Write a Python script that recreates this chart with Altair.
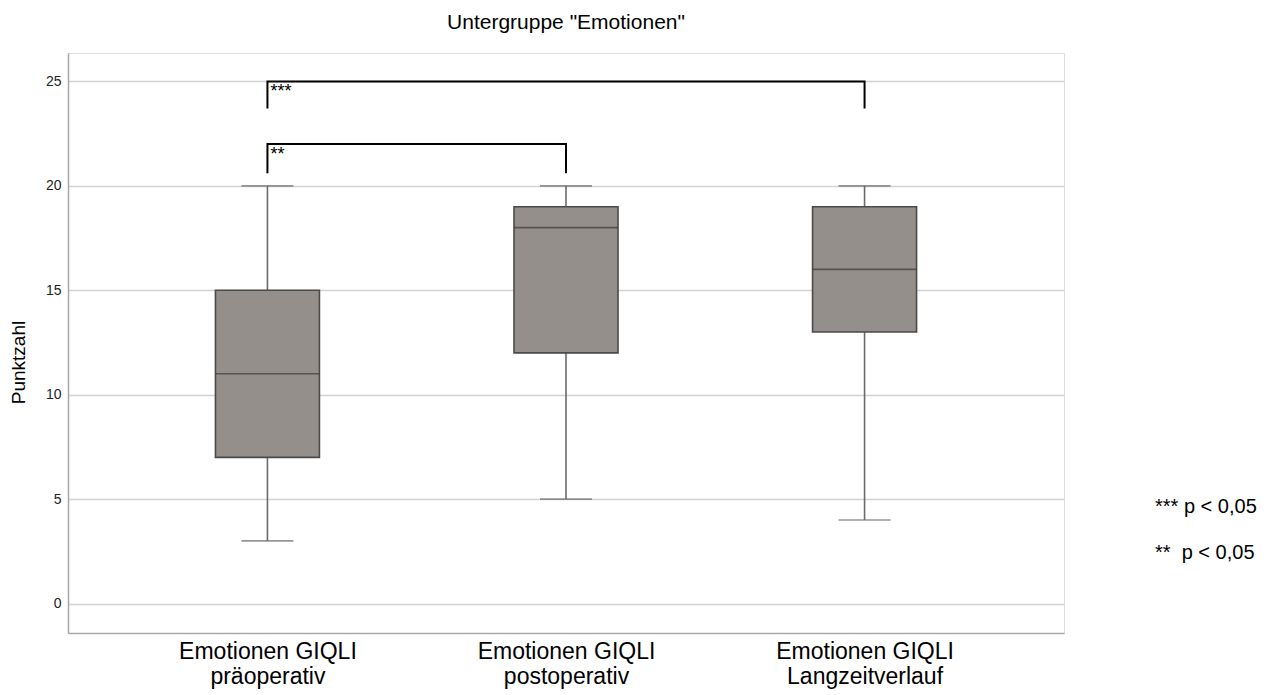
import altair as alt
import pandas as pd

# --- data ---
categories = [
    "Emotionen GIQLI präoperativ",
    "Emotionen GIQLI postoperativ",
    "Emotionen GIQLI Langzeitverlauf",
]
whisker_low = [3, 5, 4]
q1 = [7, 12, 13]
median = [11, 18, 16]
q3 = [15, 19, 19]
whisker_high = [20, 20, 20]

# significance brackets (each a path: low - high - high - low)
bracket_ids = ["***", "***", "***", "***", "**", "**", "**", "**"]
bracket_cat = [categories[0], categories[0], categories[2], categories[2],
               categories[0], categories[0], categories[1], categories[1]]
bracket_y = [23.7, 25, 25, 23.7, 20.6, 22, 22, 20.6]
bracket_order = [0, 1, 2, 3, 0, 1, 2, 3]

bracket_label = ["***", "**"]
bracket_label_cat = [categories[0], categories[0]]
bracket_label_y = [25, 22]

legend_text = ["*** p < 0,05", "**\u00a0\u00a0p < 0,05"]
legend_y = [4.6, 2.4]

box_df = pd.DataFrame({
    "cat": categories, "lo": whisker_low, "q1": q1,
    "med": median, "q3": q3, "hi": whisker_high,
})
br_df = pd.DataFrame({"id": bracket_ids, "cat": bracket_cat,
                      "y": bracket_y, "ord": bracket_order})
brl_df = pd.DataFrame({"lab": bracket_label, "cat": bracket_label_cat,
                       "y": bracket_label_y})
leg_df = pd.DataFrame({"t": legend_text, "y": legend_y})

FONT = "Liberation Sans"

x_enc = alt.X(
    "cat:N", sort=categories, title=None,
    scale=alt.Scale(type="point", padding=0.668),
    axis=alt.Axis(
        labelExpr="[slice(datum.value, 0, 15), slice(datum.value, 16)]",
        labelFontSize=23, labelFont=FONT, labelColor="#000000",
        labelLineHeight=25, labelPadding=7, ticks=False, labelAngle=0,
        domainColor="#a8a8a8", domainWidth=1.5, grid=False,
        labelBaseline="top",
    ),
)
y_scale = alt.Scale(domain=[-1.41, 26.36], nice=False, zero=False)
y_axis = alt.Axis(
    values=[0, 5, 10, 15, 20, 25], title="Punktzahl",
    titleFont=FONT, titleFontSize=19, titleFontWeight="normal",
    titleColor="#000000", titleX=-40, titleY=309, titleAlign="center",
    titleAngle=270,
    labelFont=FONT, labelFontSize=14, labelColor="#222222", labelPadding=7,
    ticks=False, grid=True, gridColor="#d2d2d2", gridWidth=1.5,
    domainColor="#a8a8a8", domainWidth=1.5,
)

base = alt.Chart(box_df).encode(x=x_enc)

whisk_lo = base.mark_rule(color="#6a6a6a", strokeWidth=1.6).encode(
    y=alt.Y("lo:Q", scale=y_scale, axis=y_axis), y2="q1:Q")
whisk_hi = base.mark_rule(color="#6a6a6a", strokeWidth=1.6).encode(
    y=alt.Y("q3:Q", scale=y_scale), y2="hi:Q")
box = base.mark_bar(size=104, color="#958f8c", stroke="#4a4a4a",
                    strokeWidth=1.6).encode(
    y=alt.Y("q1:Q", scale=y_scale), y2="q3:Q")
med = base.mark_tick(size=104, thickness=1.6, color="#3a3a3a",
                     orient="horizontal").encode(y=alt.Y("med:Q", scale=y_scale))
cap_lo = base.mark_tick(size=52, thickness=1.6, color="#6a6a6a",
                        orient="horizontal").encode(y=alt.Y("lo:Q", scale=y_scale))
cap_hi = base.mark_tick(size=52, thickness=1.6, color="#6a6a6a",
                        orient="horizontal").encode(y=alt.Y("hi:Q", scale=y_scale))

brackets = alt.Chart(br_df).mark_line(
    color="#000000", strokeWidth=2, strokeJoin="miter").encode(
    x=alt.X("cat:N", sort=categories),
    y=alt.Y("y:Q", scale=y_scale),
    detail="id:N", order="ord:Q")

bracket_text = alt.Chart(brl_df).mark_text(
    align="left", baseline="top", dx=3, dy=2, fontSize=18, font=FONT,
    color="#000000").encode(
    x=alt.X("cat:N", sort=categories),
    y=alt.Y("y:Q", scale=y_scale), text="lab:N")

legend = alt.Chart(leg_df).mark_text(
    align="left", baseline="middle", fontSize=20, font=FONT,
    color="#000000").encode(
    x=alt.value(1087), y=alt.Y("y:Q", scale=y_scale), text="t:N")

chart = alt.layer(
    whisk_lo, whisk_hi, box, med, cap_lo, cap_hi, brackets, bracket_text, legend
).properties(
    width=996, height=580,
    title=alt.TitleParams('Untergruppe "Emotionen"', font=FONT, fontSize=21,
                          fontWeight="normal", color="#000000",
                          anchor="middle", baseline="alphabetic", offset=3),
    autosize="none",
    padding={"left": 60, "top": 45, "right": 200, "bottom": 62},
).configure_view(strokeWidth=0).configure(background="#ffffff")

chart.save("out.html", embed_options={"renderer": "svg", "actions": False})
